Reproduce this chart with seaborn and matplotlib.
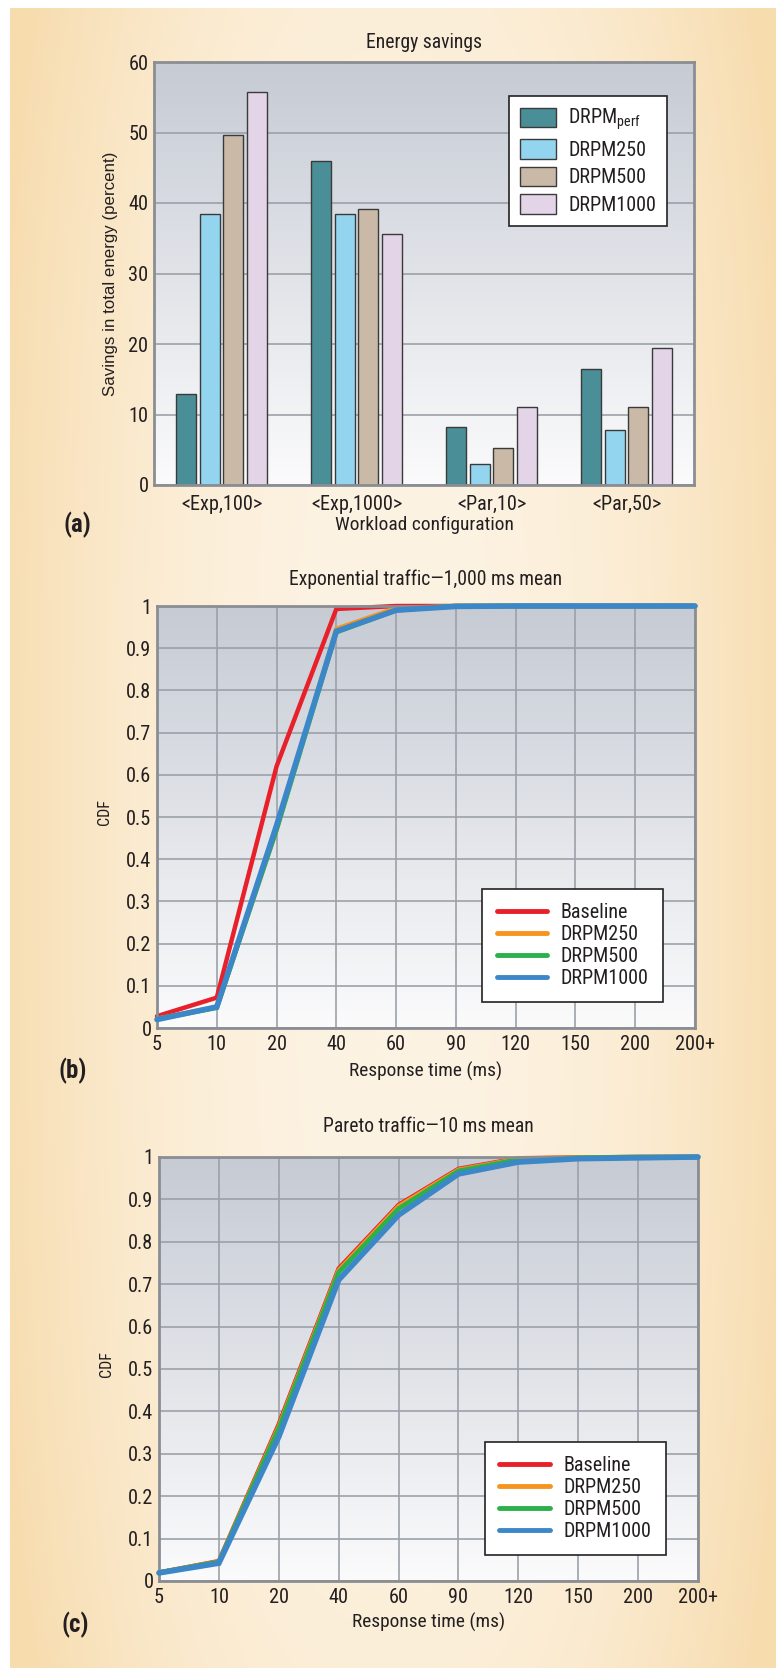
import numpy as np
import pandas as pd
import matplotlib
matplotlib.use("Agg")
import matplotlib.pyplot as plt
import seaborn as sns
from matplotlib import font_manager
from matplotlib.colors import LinearSegmentedColormap, to_hex
from matplotlib.patches import Patch
from matplotlib.lines import Line2D

# ---------------- data ----------------
workloads = ["<Exp,100>", "<Exp,1000>", "<Par,10>", "<Par,50>"]
bar_series = ["DRPMperf", "DRPM250", "DRPM500", "DRPM1000"]
drpm_perf = [12.9, 45.9, 8.2, 16.4]
drpm250 = [38.5, 38.4, 3.0, 7.8]
drpm500 = [49.7, 39.2, 5.3, 11.1]
drpm1000 = [55.8, 35.6, 11.0, 19.4]

resp_times = ["5", "10", "20", "40", "60", "90", "120", "150", "200", "200+"]
cdf_series = ["Baseline", "DRPM250", "DRPM500", "DRPM1000"]

exp_baseline = [0.028, 0.072, 0.62, 0.993, 1.0, 1.0, 1.0, 1.0, 1.0, 1.0]
exp_drpm250 = [0.022, 0.050, 0.47, 0.946, 0.995, 1.0, 1.0, 1.0, 1.0, 1.0]
exp_drpm500 = [0.021, 0.048, 0.47, 0.938, 0.990, 1.0, 1.0, 1.0, 1.0, 1.0]
exp_drpm1000 = [0.020, 0.050, 0.48, 0.940, 0.990, 0.999, 1.0, 1.0, 1.0, 1.0]

par_baseline = [0.020, 0.047, 0.37, 0.737, 0.887, 0.972, 0.997, 0.999, 1.0, 1.0]
par_drpm250 = [0.020, 0.046, 0.365, 0.733, 0.884, 0.970, 0.996, 0.999, 1.0, 1.0]
par_drpm500 = [0.020, 0.045, 0.36, 0.728, 0.878, 0.967, 0.994, 0.998, 1.0, 1.0]
par_drpm1000 = [0.019, 0.042, 0.34, 0.710, 0.863, 0.960, 0.988, 0.996, 0.998, 1.0]

# ---------------- style ----------------
bar_colors = ["#4a8f97", "#93d5ef", "#c9b9a6", "#e3d4e7"]
line_colors = ["#e8202a", "#f7941d", "#2bb04a", "#3b87c8"]
line_widths = [3.2, 3.2, 3.4, 4.0]
TXT = "#231f20"

sns.set_theme(style="white")
avail = {f.name for f in font_manager.fontManager.ttflist}
COND = None
for n in ["Liberation Sans Narrow", "Roboto Condensed", "Open Sans Condensed", "Arial Narrow"]:
    if n in avail:
        COND = n
        break
REG = "Liberation Sans" if "Liberation Sans" in avail else "DejaVu Sans"
if COND is None:
    COND = REG
plt.rcParams["font.family"] = [COND, "DejaVu Sans"]
plt.rcParams["mathtext.fontset"] = "custom"
plt.rcParams["mathtext.rm"] = COND
plt.rcParams["mathtext.it"] = COND
plt.rcParams["text.color"] = TXT

W, H = 776, 1668
fig = plt.figure(figsize=(W / 100, H / 100), dpi=100, facecolor="white")
renderer = fig.canvas.get_renderer()


def fit(text, px, family, weight="normal"):
    t = fig.text(0, 0, text, fontsize=20, family=family, weight=weight)
    w = t.get_window_extent(renderer=renderer).width
    t.remove()
    return 20 * px / w


tick_fs = fit("<Exp,1000>", 91, COND)
title_fs = fit("Exponential traffic\u20141,000 ms mean", 273, COND)
xlab_fs = fit("Response time (ms)", 153, COND)
leg_fs = fit("DRPM1000", 88, COND)
ylab_a_fs = fit("Savings in total energy (percent)", 243, REG)
cdf_fs = fit("CDF", 26, COND)
panel_fs = fit("(a)", 28, COND, "bold")

# page background (beige gradient)
bg = fig.add_axes([10 / W, 0, 1 - 10 / W, 1 - 8 / H], zorder=-10)
xx = np.linspace(-1, 1, 600)
yy = np.linspace(-1, 1, 300)
X, Y = np.meshgrid(xx, yy)
val = np.clip(np.abs(X) ** 2.2 * 0.9 + np.abs(Y) ** 3 * 0.2, 0, 1)
bg_cmap = LinearSegmentedColormap.from_list("bg", ["#fdf3e3", "#f7dcae"])
bg.imshow(val, aspect="auto", cmap=bg_cmap, extent=[0, 1, 0, 1], vmin=0, vmax=1)
bg.set_axis_off()

ax_cmap = LinearSegmentedColormap.from_list("axbg", ["#c6cbd4", "#fbfbfc"])


def axes_px(l, r, t, b):
    return [l / W, 1 - b / H, (r - l) / W, (b - t) / H]


def style_axes(ax):
    g = np.linspace(0, 1, 256)[:, None]
    ax.imshow(g, aspect="auto", cmap=ax_cmap, extent=[0, 1, 0, 1],
              transform=ax.transAxes, zorder=0)
    for s in ax.spines.values():
        s.set_visible(True)
        s.set_color("#8a8e94")
        s.set_linewidth(2.0)
        s.set_zorder(6)
    ax.tick_params(length=0, labelsize=tick_fs, colors=TXT)


# ---------------- panel (a) ----------------
ax1 = fig.add_axes(axes_px(154, 694, 62, 485))
df_bar = pd.DataFrame({
    "workload": workloads * 4,
    "config": np.repeat(bar_series, len(workloads)),
    "savings": drpm_perf + drpm250 + drpm500 + drpm1000,
})
sns.barplot(data=df_bar, x="workload", y="savings", hue="config",
            hue_order=bar_series, palette=bar_colors, width=0.7, gap=0.15,
            edgecolor="#3a3a3a", linewidth=1.0, saturation=1, legend=False,
            ax=ax1, zorder=3)
style_axes(ax1)
ax1.set_xlim(-0.5, 3.5)
ax1.set_ylim(0, 60)
ax1.set_yticks(range(0, 61, 10))
ax1.yaxis.grid(True, color="#9ca1a9", lw=1.2, zorder=1)
ax1.xaxis.grid(False)
ax1.set_axisbelow(True)
ax1.tick_params(axis="x", pad=7)
ax1.tick_params(axis="y", pad=4)
ax1.set_xlabel("Workload configuration", fontsize=xlab_fs, color=TXT)
ax1.xaxis.set_label_coords(0.5, -(525 - 485) / 423)
ax1.xaxis.label.set_va("center")
ax1.set_ylabel("Savings in total energy (percent)", fontsize=ylab_a_fs,
               family=REG, color=TXT)
ax1.yaxis.set_label_coords(-(154 - 110) / 540, 0.5)
ax1.yaxis.label.set_va("center")
ax1.text(0.5, 1 + (62 - 42) / 423, "Energy savings", transform=ax1.transAxes,
         ha="center", va="center", fontsize=title_fs, color=TXT)
bar_labels = [r"DRP$\mathrm{M}_{\mathrm{perf}}$", "DRPM250", "DRPM500", "DRPM1000"]
handles = [Patch(facecolor=c, edgecolor="#3a3a3a", lw=1.0) for c in bar_colors]
leg = ax1.legend(handles, bar_labels, loc="upper right", bbox_to_anchor=(0.95, 0.92),
                 borderaxespad=0, fontsize=leg_fs, frameon=True, fancybox=False,
                 edgecolor="#222222", framealpha=1, handlelength=1.8,
                 handleheight=1.1, labelspacing=0.35, handletextpad=0.6,
                 borderpad=0.55)
leg.get_frame().set_linewidth(1.2)
leg.set_zorder(10)
fig.text(77 / W, 1 - 525 / H, "(a)", ha="center", va="center",
         fontsize=panel_fs, weight="bold", color=TXT)


# ---------------- panels (b), (c) ----------------
def cdf_panel(rect, series_vals, title, title_y, xlab_y, ylab_x, label, lab_x, lab_y):
    l, r, t, b = rect
    hpx, wpx = b - t, r - l
    ax = fig.add_axes(axes_px(l, r, t, b))
    df = pd.DataFrame({
        "time": resp_times * len(cdf_series),
        "config": np.repeat(cdf_series, len(resp_times)),
        "cdf": np.concatenate(series_vals),
    })
    sns.lineplot(data=df, x="time", y="cdf", hue="config", hue_order=cdf_series,
                 palette=line_colors, sort=False, legend=False, ax=ax,
                 clip_on=False)
    style_axes(ax)
    cmap_lw = {to_hex(c): (lw, i) for i, (c, lw) in enumerate(zip(line_colors, line_widths))}
    for ln in ax.lines:
        key = to_hex(ln.get_color())
        if key in cmap_lw:
            lw, i = cmap_lw[key]
            ln.set_linewidth(lw)
            ln.set_zorder(4 + i)
            ln.set_solid_joinstyle("miter")
    ax.set_xlim(0, len(resp_times) - 1)
    ax.set_ylim(0, 1)
    ax.set_yticks(np.arange(0, 1.01, 0.1))
    ax.set_yticklabels(["0"] + [f"{v:.1f}" for v in np.arange(0.1, 0.95, 0.1)] + ["1"])
    ax.grid(True, color="#9ca1a9", lw=1.2, zorder=1)
    ax.set_axisbelow(True)
    ax.tick_params(axis="x", pad=5)
    ax.tick_params(axis="y", pad=4)
    ax.set_xlabel("Response time (ms)", fontsize=xlab_fs, color=TXT)
    ax.xaxis.set_label_coords(0.5, -(xlab_y - b) / hpx)
    ax.xaxis.label.set_va("center")
    ax.set_ylabel("CDF", fontsize=cdf_fs, color=TXT)
    ax.yaxis.set_label_coords(-(l - ylab_x) / wpx, 0.512)
    ax.yaxis.label.set_va("center")
    ax.text(0.5, 1 + (t - title_y) / hpx, title, transform=ax.transAxes,
            ha="center", va="center", fontsize=title_fs, color=TXT)
    hl = [Line2D([], [], color=c, lw=3.5) for c in line_colors]
    lg = ax.legend(hl, cdf_series, loc="lower right", bbox_to_anchor=(0.94, 0.062),
                   borderaxespad=0, fontsize=leg_fs, frameon=True, fancybox=False,
                   edgecolor="#222222", framealpha=1, handlelength=2.5,
                   labelspacing=0.15, handletextpad=0.7, borderpad=0.7)
    lg.get_frame().set_linewidth(1.2)
    lg.set_zorder(10)
    fig.text(lab_x / W, 1 - lab_y / H, label, ha="center", va="center",
             fontsize=panel_fs, weight="bold", color=TXT)
    return ax


cdf_panel((157, 695, 606, 1028),
          [exp_baseline, exp_drpm250, exp_drpm500, exp_drpm1000],
          "Exponential traffic\u20141,000 ms mean", 579, 1071, 104, "(b)", 73, 1071)
cdf_panel((159, 698, 1157, 1581),
          [par_baseline, par_drpm250, par_drpm500, par_drpm1000],
          "Pareto traffic\u201410 ms mean", 1126, 1622, 106, "(c)", 75, 1625)

fig.savefig("out.png", dpi=100, facecolor="white")
